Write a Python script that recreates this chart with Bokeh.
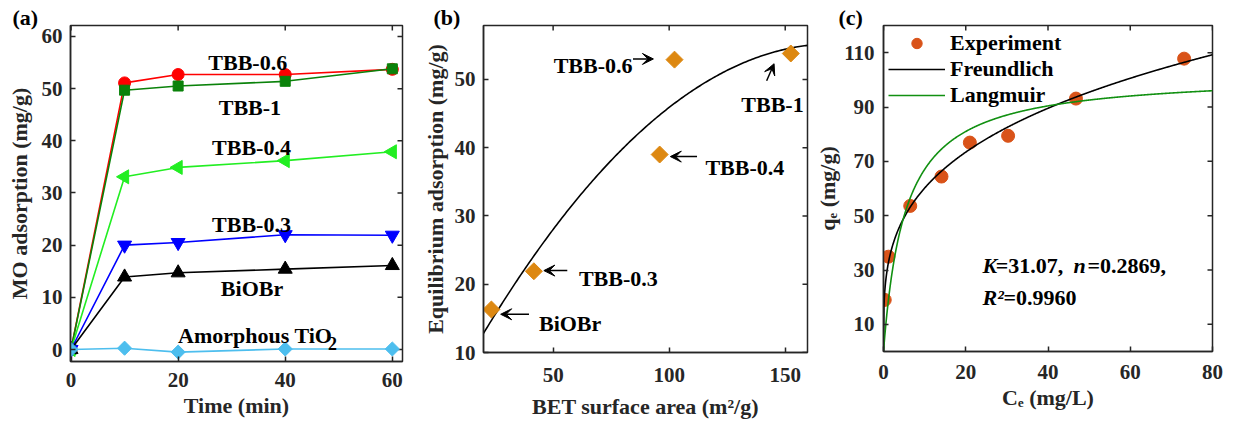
import numpy as np
from bokeh.plotting import figure
from bokeh.layouts import row
from bokeh.models import (Range1d, FixedTicker, Label, Arrow, VeeHead,
                          Legend, LegendItem, Title)
from bokeh.embed import file_html
from bokeh.resources import INLINE

FONT = "Liberation Serif"
AX = "#262626"

# ---------------- data: panel (a) ----------------
time_min = [0, 10, 20, 40, 60]
tbb06 = [0, 51.1, 52.7, 52.7, 53.7]
tbb1 = [0, 49.7, 50.5, 51.4, 53.8]
tbb04 = [0, 33.1, 34.9, 36.2, 37.9]
tbb03 = [0, 20.0, 20.5, 22.0, 21.9]
biobr = [0, 13.9, 14.7, 15.4, 16.1]
tio2 = [0, 0.25, -0.5, 0.1, 0.1]
a_xticks = [0, 20, 40, 60]
a_yticks = [0, 10, 20, 30, 40, 50, 60]

# ---------------- data: panel (b) ----------------
samples_b = ["BiOBr", "TBB-0.3", "TBB-0.4", "TBB-0.6", "TBB-1"]
bet_area = [23.4, 41.7, 95.9, 102.3, 152.4]
eq_ads = [16.3, 21.9, 39.0, 52.9, 53.8]
bet_fit_coef = [0.78, 0.6384, -0.001872]   # quadratic trend line (c0, c1, c2)
b_xticks = [50, 100, 150]
b_yticks = [10, 20, 30, 40, 50]

# ---------------- data: panel (c) ----------------
ce = [0.3, 1.2, 6.5, 14.1, 21.0, 30.3, 46.8, 73.1]
qe = [19.0, 34.9, 53.6, 64.4, 76.9, 79.4, 93.1, 107.8]
freundlich_K = 31.07
freundlich_n = 0.2869
langmuir_qm = 102.3
langmuir_KL = 0.19
c_xticks = [0, 20, 40, 60, 80]
c_yticks = [10, 30, 50, 70, 90, 110]


def make_fig(fw, fh, xr, yr, bl, br, bt=25, bb=40):
    p = figure(frame_width=fw, frame_height=fh, x_range=Range1d(*xr),
               y_range=Range1d(*yr), output_backend="svg", toolbar_location=None,
               min_border_left=bl, min_border_right=br,
               min_border_top=bt, min_border_bottom=bb)
    p.grid.visible = False
    p.outline_line_color = AX
    p.outline_line_width = 1.5
    p.background_fill_color = "white"
    p.border_fill_color = "white"
    return p


def style_axis(ax, ticks, standoff, label_standoff=3, label_size="22px"):
    ax.ticker = FixedTicker(ticks=ticks)
    ax.major_tick_in = 5
    ax.major_tick_out = 0
    ax.minor_tick_line_color = None
    ax.axis_line_color = AX
    ax.axis_line_width = 1.5
    ax.major_tick_line_color = AX
    ax.major_tick_line_width = 1.5
    ax.major_label_text_font = FONT
    ax.major_label_text_font_style = "bold"
    ax.major_label_text_font_size = "21px"
    ax.major_label_text_color = AX
    ax.major_label_standoff = standoff
    ax.axis_label_text_font = FONT
    ax.axis_label_text_font_style = "bold"
    ax.axis_label_text_font_size = label_size
    ax.axis_label_text_color = AX
    ax.axis_label_standoff = label_standoff


def box_ticks(p, xr, yr, fw, fh, xticks, yticks):
    # inward ticks on the top and right edges of the box (5 px long)
    dy = 5.0 * (yr[1] - yr[0]) / fh
    dx = 5.0 * (xr[1] - xr[0]) / fw
    p.segment(x0=xticks, y0=[yr[1]] * len(xticks), x1=xticks,
              y1=[yr[1] - dy] * len(xticks), line_color=AX, line_width=1.5)
    p.segment(x0=[xr[1]] * len(yticks), y0=yticks, x1=[xr[1] - dx] * len(yticks),
              y1=yticks, line_color=AX, line_width=1.5)


def panel_tag(p, s, offset):
    p.add_layout(Title(text=s, align="left", offset=offset, standoff=-8,
                       text_font=FONT, text_font_style="bold",
                       text_font_size="22px", text_color="black",
                       vertical_align="bottom"), "above")


def txt(p, x, y, s, size="22px", align="left", style="bold", angle=0.0,
        color="black"):
    p.add_layout(Label(x=x, y=y, text=s, text_font=FONT, text_font_style=style,
                       text_font_size=size, text_align=align,
                       text_baseline="alphabetic", angle=angle,
                       text_color=color))


def arrow(p, x0, y0, x1, y1):
    p.add_layout(Arrow(end=VeeHead(size=11, fill_color="black", line_color="black",
                                   line_width=1),
                       x_start=x0, y_start=y0, x_end=x1, y_end=y1,
                       line_color="black", line_width=1.5))


# ================= panel (a) =================
A_X, A_Y, A_FW, A_FH = (-0.1, 61.9), (-2.3, 62.1), 332, 336
pa = make_fig(A_FW, A_FH, A_X, A_Y, 70, 8)
style_axis(pa.below[0], a_xticks, 11, 3)
style_axis(pa.left[0], a_yticks, 8, 7)
pa.below[0].axis_label = "Time (min)"
pa.left[0].axis_label = "MO adsorption (mg/g)"
box_ticks(pa, A_X, A_Y, A_FW, A_FH, a_xticks, a_yticks)
panel_tag(pa, "(a)", -58)

series_a = [
    (tbb06, "#FF0000", "circle", 12, 0.0),
    (tbb1, "#0A820A", "square", 10, 0.0),
    (tbb04, "#22EE22", "triangle", 14, np.pi / 2),
    (tbb03, "#0000FF", "inverted_triangle", 14, 0.0),
    (biobr, "#000000", "triangle", 14, 0.0),
    (tio2, "#4DBEEE", "square", 10, np.pi / 4),
]
for ys, col, mk, sz, ang in series_a:
    pa.line(time_min, ys, line_color=col, line_width=1.6)
    pa.scatter(time_min, ys, marker=mk, size=sz, angle=ang, fill_color=col,
               line_color=col)

txt(pa, 33.0, 55.0, "TBB-0.6", align="center")
txt(pa, 33.4, 46.4, "TBB-1", align="center")
txt(pa, 33.7, 38.7, "TBB-0.4", align="center")
txt(pa, 33.7, 23.9, "TBB-0.3", align="center")
txt(pa, 33.8, 11.7, "BiOBr", align="center")
txt(pa, 34.4, 2.7, "Amorphous TiO", align="center")
txt(pa, 48.0, 1.1, "2", size="18px")

# ================= panel (b) =================
B_X, B_Y, B_FW, B_FH = (20, 159.6), (10, 57.9), 324, 327
pb = make_fig(B_FW, B_FH, B_X, B_Y, 73, 4)
style_axis(pb.below[0], b_xticks, 15, 9)
style_axis(pb.left[0], b_yticks, 8)
pb.below[0].axis_label = "BET surface area (m\u00b2/g)"
box_ticks(pb, B_X, B_Y, B_FW, B_FH, b_xticks, b_yticks)
pb.add_layout(Title(text="Equilibrium adsorption (mg/g)", align="center",
                    offset=-28, standoff=8, text_font=FONT,
                    text_font_style="bold", text_font_size="22px",
                    text_color=AX, vertical_align="bottom"), "left")
panel_tag(pb, "(b)", -50)

xs_fit = np.linspace(B_X[0], B_X[1], 200)
ys_fit = bet_fit_coef[0] + bet_fit_coef[1] * xs_fit + bet_fit_coef[2] * xs_fit ** 2
pb.line(xs_fit, ys_fit, line_color="black", line_width=1.6)
pb.scatter(bet_area, eq_ads, marker="square", angle=np.pi / 4, size=12,
           fill_color="#DD8811", line_color="#DD8811")

txt(pb, 84.2, 52.0, "TBB-0.6", align="right")
arrow(pb, 84.4, 53.0, 93.2, 53.0)
txt(pb, 144.5, 46.4, "TBB-1", align="center")
arrow(pb, 142.0, 49.8, 145.2, 52.3)
txt(pb, 115.6, 37.1, "TBB-0.4")
arrow(pb, 112.0, 38.7, 100.5, 38.7)
txt(pb, 61.1, 20.8, "TBB-0.3")
arrow(pb, 56.1, 22.0, 46.0, 22.0)
txt(pb, 43.9, 14.3, "BiOBr")
arrow(pb, 39.6, 15.6, 27.4, 15.6)

# ================= panel (c) =================
C_X, C_Y, C_FW, C_FH = (0, 80), (0, 120), 329, 326
pc = make_fig(C_FW, C_FH, C_X, C_Y, 72, 22)
style_axis(pc.below[0], c_xticks, 13, 3)
style_axis(pc.left[0], c_yticks, 9, 1)
pc.below[0].axis_label = "C\u2091 (mg/L)"
pc.left[0].axis_label = "q\u2091 (mg/g)"
box_ticks(pc, C_X, C_Y, C_FW, C_FH, c_xticks, c_yticks)
panel_tag(pc, "(c)", -45)

r_exp = pc.scatter(ce, qe, marker="circle", size=13, fill_color="#D95319",
                   line_color="#D95319")
cs = np.linspace(C_X[0], C_X[1], 800)
q_fr = freundlich_K * cs ** freundlich_n
q_la = langmuir_qm * langmuir_KL * cs / (1 + langmuir_KL * cs)
r_fr = pc.line(cs, q_fr, line_color="black", line_width=1.6)
r_la = pc.line(cs, q_la, line_color="#119011", line_width=1.6)

legend = Legend(items=[LegendItem(label="Experiment", renderers=[r_exp]),
                       LegendItem(label="Freundlich", renderers=[r_fr]),
                       LegendItem(label="Langmuir", renderers=[r_la])],
                location="top_left", border_line_color=None,
                background_fill_alpha=0, label_text_font=FONT,
                label_text_font_style="bold", label_text_font_size="22px",
                label_text_color="black",
                glyph_width=57, glyph_height=26, label_height=26, spacing=0,
                padding=2, margin=5, label_standoff=5)
pc.add_layout(legend)

# fit annotation
txt(pc, 24.1, 31.5, "K", style="bold italic")
txt(pc, 27.3, 31.5, "=31.07,")
txt(pc, 46.2, 31.5, "n", style="bold italic")
txt(pc, 49.6, 31.5, "=0.2869,")
txt(pc, 24.1, 19.8, "R\u00b2", style="bold italic")
txt(pc, 29.2, 19.8, "=0.9960")

layout = row(pa, pb, pc)
open("out.html", "w").write(file_html(layout, INLINE))
